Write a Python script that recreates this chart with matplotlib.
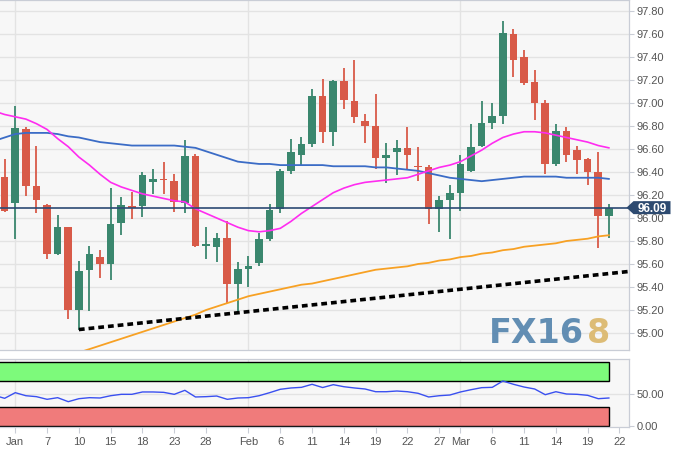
import numpy as np
import pandas as pd
import matplotlib
matplotlib.use('Agg')
import matplotlib.pyplot as plt
from matplotlib.patches import Rectangle, Polygon
import matplotlib.transforms as mtrans

plt.rcParams['font.family'] = ['Liberation Sans', 'DejaVu Sans']

# ---------------- data ----------------
# trading days (Dec 28 only carries indicator lines, candles start Dec 31)
all_days = [d for d in pd.bdate_range('2018-12-28', '2019-03-21') if d != pd.Timestamp('2019-01-01')]

opens = [96.36, 96.13, 96.77, 96.28, 96.11, 95.69, 95.92, 95.20, 95.55, 95.66,
         95.60, 95.96, 96.10, 96.10, 96.31, 96.34, 96.32, 96.13, 96.54, 95.76,
         95.75, 95.83, 95.43, 95.56, 95.61, 95.82, 96.08, 96.41, 96.55, 96.64,
         97.06, 96.75, 97.19, 97.02, 96.84, 96.80, 96.52, 96.57, 96.61, 96.45,
         96.44, 96.08, 96.16, 96.22, 96.41, 96.63, 96.83, 96.89, 97.60, 97.40,
         97.18, 97.00, 96.47, 96.76, 96.59, 96.51, 96.40, 96.02]
highs = [96.51, 96.97, 96.79, 96.63, 96.12, 96.03, 95.92, 95.63, 95.76, 95.72,
         96.26, 96.18, 96.23, 96.40, 96.43, 96.49, 96.38, 96.68, 96.56, 95.92,
         95.87, 95.97, 95.62, 95.67, 95.87, 96.12, 96.43, 96.69, 96.70, 97.12,
         97.21, 97.20, 97.30, 97.37, 96.90, 97.08, 96.65, 96.68, 96.79, 96.62,
         96.46, 96.19, 96.29, 96.55, 96.82, 97.02, 97.00, 97.71, 97.64, 97.46,
         97.29, 97.03, 96.82, 96.79, 96.63, 96.52, 96.57, 96.12]
lows = [96.05, 95.82, 96.19, 96.04, 95.64, 95.68, 95.12, 95.03, 95.19, 95.48,
        95.46, 95.85, 95.99, 96.01, 96.21, 96.21, 96.05, 96.04, 95.75, 95.64,
        95.62, 95.26, 95.18, 95.40, 95.58, 95.80, 96.04, 96.38, 96.45, 96.62,
        96.65, 96.63, 96.95, 96.83, 96.65, 96.43, 96.30, 96.37, 96.43, 96.32,
        95.95, 95.88, 95.82, 96.06, 96.40, 96.62, 96.77, 96.82, 97.23, 97.16,
        96.85, 96.38, 96.45, 96.49, 96.38, 96.29, 95.74, 95.83]
closes = [96.06, 96.78, 96.28, 96.16, 95.69, 95.92, 95.20, 95.54, 95.69, 95.60,
          95.95, 96.11, 96.09, 96.37, 96.34, 96.33, 96.14, 96.54, 95.76, 95.77,
          95.83, 95.43, 95.56, 95.58, 95.82, 96.07, 96.41, 96.57, 96.64, 97.06,
          96.75, 97.19, 97.03, 96.88, 96.80, 96.52, 96.55, 96.61, 96.55, 96.44,
          96.08, 96.16, 96.22, 96.47, 96.62, 96.83, 96.89, 97.61, 97.37, 97.17,
          97.00, 96.47, 96.76, 96.55, 96.50, 96.40, 96.02, 96.09]

# indicator lines, from Dec 28
ma_pink = [96.93, 96.90, 96.88, 96.86, 96.82, 96.77, 96.69, 96.62, 96.53, 96.46,
           96.38, 96.31, 96.27, 96.24, 96.21, 96.19, 96.17, 96.15, 96.14, 96.08,
           96.04, 96.00, 95.96, 95.92, 95.89, 95.88, 95.89, 95.91, 95.97, 96.04,
           96.10, 96.16, 96.22, 96.26, 96.29, 96.31, 96.32, 96.33, 96.34, 96.35,
           96.38, 96.41, 96.44, 96.46, 96.49, 96.54, 96.59, 96.65, 96.70, 96.73,
           96.75, 96.75, 96.74, 96.72, 96.70, 96.68, 96.66, 96.63, 96.61]
ma_blue = [96.67, 96.70, 96.73, 96.74, 96.74, 96.74, 96.73, 96.71, 96.70, 96.68,
           96.66, 96.65, 96.64, 96.63, 96.63, 96.63, 96.63, 96.63, 96.62, 96.61,
           96.58, 96.55, 96.52, 96.49, 96.48, 96.47, 96.47, 96.46, 96.46, 96.46,
           96.46, 96.46, 96.45, 96.45, 96.45, 96.45, 96.44, 96.44, 96.43, 96.42,
           96.41, 96.39, 96.37, 96.35, 96.34, 96.33, 96.32, 96.33, 96.34, 96.35,
           96.36, 96.36, 96.36, 96.36, 96.35, 96.35, 96.35, 96.35, 96.34]
rsi = [48.0, 43.2, 52.1, 47.3, 45.8, 41.6, 44.2, 37.9, 42.6, 44.2,
       43.7, 47.3, 49.5, 49.5, 53.2, 53.2, 52.6, 49.5, 55.8, 45.3,
       45.8, 46.8, 41.6, 43.7, 44.2, 47.3, 52.1, 57.4, 59.5, 60.5,
       65.3, 60.2, 64.7, 61.5, 59.5, 57.9, 53.6, 53.6, 54.7, 53.6,
       51.1, 45.3, 47.3, 48.4, 53.2, 56.8, 60.0, 60.5, 70.5, 65.3,
       61.0, 57.9, 48.9, 53.6, 50.0, 49.5, 47.9, 42.6, 43.7]
# orange long average, visible from Jan 10
ma_orange = [94.83, 94.86, 94.89, 94.92, 94.95, 94.98, 95.01, 95.04, 95.07, 95.10,
             95.13, 95.16, 95.20, 95.23, 95.26, 95.29, 95.32, 95.34, 95.36, 95.38,
             95.40, 95.42, 95.43, 95.45, 95.47, 95.49, 95.51, 95.53, 95.55, 95.56,
             95.57, 95.58, 95.60, 95.61, 95.63, 95.64, 95.66, 95.67, 95.69, 95.70,
             95.72, 95.73, 95.75, 95.76, 95.77, 95.78, 95.80, 95.81, 95.82, 95.84,
             95.85]
orange_start = '2019-01-10'

trend_dates = ['2019-01-10', 'end']
trend_vals = [95.03, 95.535]

last_price = 96.09
rsi_upper = [70, 100]
rsi_lower = [0, 30]

tick_dates = ['2019-01-02', '2019-01-07', '2019-01-10', '2019-01-15', '2019-01-18',
              '2019-01-23', '2019-01-28', '2019-02-01', '2019-02-06', '2019-02-11',
              '2019-02-14', '2019-02-19', '2019-02-22', '2019-02-27', '2019-03-01',
              '2019-03-06', '2019-03-11', '2019-03-14', '2019-03-19', '2019-03-22']
tick_labels = ['Jan', '7', '10', '15', '18', '23', '28', 'Feb', '6', '11', '14', '19',
               '22', '27', 'Mar', '6', '11', '14', '19', '22']
month_starts = ['2019-01-02', '2019-02-01', '2019-03-01']

# ---------------- positions ----------------
day_index = {d.strftime('%Y-%m-%d'): i - 2 for i, d in enumerate(all_days)}
day_index['2019-03-22'] = day_index['2019-03-21'] + 1
line_x = np.arange(len(all_days)) - 2
cx = line_x[1:]
XMIN, XMAX = -1.44, 57.87

W, H = 679, 457
fig = plt.figure(figsize=(W / 100, H / 100), dpi=100, facecolor='white')
ax = fig.add_axes([0, 1 - 350 / H, 628.7 / W, 350 / H])
rax = fig.add_axes([0, 1 - 427 / H, 628.7 / W, 68 / H])

bg = '#f7f7f7'
grid_c = '#e3e3e3'
spine_c = '#c9cdd6'
lab_c = '#555555'
green = '#3a876e'
red = '#d85a48'

for a in (ax, rax):
    a.set_facecolor(bg)
    a.set_xlim(XMIN, XMAX)
    for s in a.spines.values():
        s.set_color(spine_c)
        s.set_linewidth(0.9)
    a.spines['left'].set_visible(False)
    for m in month_starts:
        a.axvline(day_index[m], color=grid_c, lw=1, zorder=0.5)

# main price axis
ax.set_ylim(97.8 - (350 - 11) / 115, 97.8 + 11 / 115)
yt = np.round(np.arange(95.0, 97.81, 0.2), 2)
ax.set_yticks(yt)
ax.set_yticklabels([f'{v:.2f}' for v in yt])
ax.yaxis.tick_right()
ax.tick_params(axis='y', length=3.4, width=0.8, color=spine_c, labelsize=8,
               labelcolor=lab_c, pad=2.4)
ax.set_xticks([])
ax.grid(axis='y', color=grid_c, lw=1, zorder=0.5)
ax.set_axisbelow(True)

o = np.array(opens); h = np.array(highs); l = np.array(lows); c = np.array(closes)
cols = [green if cc >= oo else red for oo, cc in zip(o, c)]
ax.vlines(cx, l, h, colors=cols, lw=1.3, zorder=2)
body = np.maximum(np.abs(c - o), 0.012)
ax.bar(cx, body, bottom=np.minimum(o, c), width=0.72, color=cols, zorder=3,
       linewidth=0)

ax.plot(line_x, ma_blue, color='#3b6cc6', lw=1.3, zorder=4)
ax.plot(line_x, ma_pink, color='#ff2cf0', lw=1.2, zorder=4)
ox = np.arange(len(ma_orange)) + day_index[orange_start]
ax.plot(ox, ma_orange, color='#f7a124', lw=1.3, zorder=4)
tx = [day_index[trend_dates[0]], XMAX]
ax.plot(tx, trend_vals, color='black', lw=2.6, ls=(0, (1.6, 1.1)),
        dash_capstyle='butt', zorder=5)
ax.axhline(last_price, color='#2b4a73', lw=1.2, zorder=4.5)

# last price tag
tr = mtrans.blended_transform_factory(fig.transFigure, ax.transData)
hh = 6.5 / 115
tag = Polygon([(626.5 / W, last_price), (633.5 / W, last_price + hh),
               (670.5 / W, last_price + hh), (670.5 / W, last_price - hh),
               (633.5 / W, last_price - hh)], closed=True, transform=tr,
              fc='#2d4a70', ec='none', clip_on=False, zorder=10)
fig.add_artist(tag)
fig.text(652.5 / W, 0, f'{last_price:.2f}', transform=tr, color='white',
         fontsize=8.5, fontweight='bold', ha='center', va='center_baseline',
         zorder=11).set_position((652.5 / W, last_price))

# watermark
fig.text(489 / W, 1 - 343 / H, 'FX16', color='#5a88b0', fontsize=24,
         fontweight='bold', family='DejaVu Sans', ha='left', va='baseline', alpha=0.95)
fig.text(587 / W, 1 - 343 / H, '8', color='#dcb96f', fontsize=24,
         fontweight='bold', family='DejaVu Sans', ha='left', va='baseline', alpha=0.95)

# RSI panel
rax.set_ylim(-2.05, 105.2)
rax.add_patch(Rectangle((XMIN - 2, rsi_upper[0]), cx[-1] - XMIN + 2,
                        rsi_upper[1] - rsi_upper[0], fc='#7dfa7b', ec='black',
                        lw=1, zorder=1))
rax.add_patch(Rectangle((XMIN - 2, rsi_lower[0]), cx[-1] - XMIN + 2,
                        rsi_lower[1] - rsi_lower[0], fc='#f07b7b', ec='black',
                        lw=1, zorder=1))
rax.axhline(50, color=grid_c, lw=1, zorder=0.6)
rax.plot(line_x, rsi, color='#3a50f0', lw=1.0, zorder=3)
rax.set_yticks([0, 50])
rax.set_yticklabels(['0.00', '50.00'])
rax.yaxis.tick_right()
rax.tick_params(axis='y', length=3.4, width=0.8, color=spine_c, labelsize=8,
                labelcolor=lab_c, pad=2.4)
rax.set_xticks([day_index[d] for d in tick_dates])
rax.set_xticklabels(tick_labels)
rax.tick_params(axis='x', length=4, width=0.8, color=spine_c, labelsize=8,
                labelcolor=lab_c, pad=3)

fig.savefig('out.png', dpi=100, facecolor='white')
